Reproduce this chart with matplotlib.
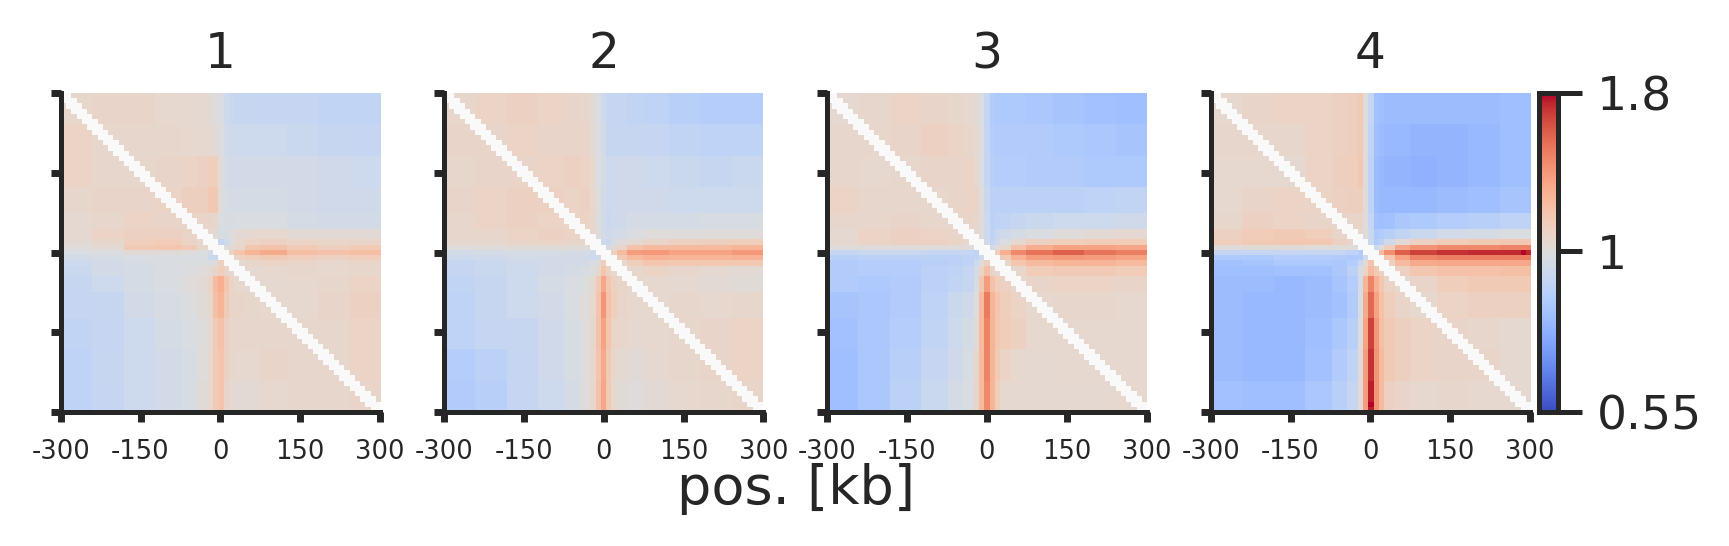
import matplotlib
matplotlib.use("Agg")
import matplotlib.pyplot as plt
from matplotlib.colors import LogNorm
import numpy as np

W, H = 1729, 546
DARK = "#262626"

TITLES = ["1", "2", "3", "4"]
TICK_LABELS = ["-300", "-150", "0", "150", "300"]
CBAR_TICKS = [0.55, 1, 1.8]
CBAR_LABELS = ["0.55", "1", "1.8"]

# number of 10 kb bins covered by each row/column band of the pileups
BAND_SIZES = [6, 6, 6, 5, 3, 2, 1, 1, 1, 1, 1, 2, 3, 5, 6, 6, 6]

pileup1 = [
    [1.05, 1.06, 1.06, 1.04, 1.03, 1.03, 1.02, 1.00, 0.98, 0.93, 0.92, 0.91, 0.91, 0.90, 0.90, 0.89, 0.89],
    [1.07, 1.05, 1.05, 1.05, 1.04, 1.03, 1.03, 1.02, 0.99, 0.95, 0.94, 0.93, 0.93, 0.93, 0.92, 0.91, 0.90],
    [1.07, 1.05, 1.05, 1.06, 1.07, 1.08, 1.10, 1.10, 1.00, 0.96, 0.95, 0.95, 0.95, 0.95, 0.95, 0.94, 0.93],
    [1.05, 1.06, 1.06, 1.07, 1.09, 1.09, 1.13, 1.13, 1.00, 0.97, 0.96, 0.96, 0.96, 0.96, 0.95, 0.94, 0.94],
    [1.03, 1.05, 1.07, 1.06, 1.06, 1.06, 1.06, 1.05, 0.98, 0.97, 0.97, 0.98, 0.98, 0.98, 0.96, 0.95, 0.95],
    [1.03, 1.07, 1.08, 1.08, 1.06, 1.04, 1.03, 1.02, 0.97, 0.97, 1.00, 1.02, 1.04, 1.04, 1.02, 1.02, 1.02],
    [1.02, 1.05, 1.10, 1.11, 1.07, 1.03, 1.00, 1.00, 0.90, 0.93, 1.00, 1.04, 1.07, 1.08, 1.07, 1.06, 1.06],
    [1.00, 1.02, 1.12, 1.14, 1.12, 1.05, 1.00, 1.00, 0.93, 1.00, 1.02, 1.05, 1.14, 1.16, 1.12, 1.09, 1.12],
    [0.98, 0.99, 1.02, 1.01, 1.00, 0.99, 0.96, 0.93, 1.00, 1.03, 1.06, 1.15, 1.22, 1.27, 1.18, 1.16, 1.18],
    [0.95, 0.96, 0.98, 0.98, 0.98, 0.98, 0.92, 0.92, 1.03, 1.00, 1.04, 1.07, 1.10, 1.12, 1.10, 1.08, 1.10],
    [0.93, 0.95, 0.97, 0.98, 0.99, 0.99, 0.97, 1.00, 1.08, 1.03, 1.00, 1.03, 1.05, 1.07, 1.06, 1.05, 1.06],
    [0.92, 0.95, 0.96, 0.98, 0.99, 1.00, 1.02, 1.06, 1.10, 1.06, 1.03, 1.02, 1.03, 1.04, 1.05, 1.04, 1.05],
    [0.91, 0.93, 0.96, 0.98, 1.00, 1.02, 1.06, 1.20, 1.25, 1.14, 1.07, 1.04, 1.03, 1.03, 1.04, 1.05, 1.07],
    [0.90, 0.91, 0.95, 0.97, 0.99, 1.01, 1.05, 1.18, 1.22, 1.12, 1.06, 1.06, 1.05, 1.04, 1.04, 1.06, 1.08],
    [0.89, 0.90, 0.93, 0.96, 0.98, 1.00, 1.03, 1.12, 1.16, 1.08, 1.05, 1.05, 1.05, 1.05, 1.05, 1.05, 1.07],
    [0.88, 0.91, 0.93, 0.95, 0.97, 1.00, 1.04, 1.12, 1.15, 1.08, 1.05, 1.04, 1.04, 1.06, 1.05, 1.05, 1.07],
    [0.88, 0.90, 0.93, 0.95, 0.97, 1.01, 1.04, 1.12, 1.15, 1.06, 1.03, 1.02, 1.02, 1.04, 1.05, 1.05, 1.06],
]

pileup2 = [
    [1.05, 1.07, 1.08, 1.07, 1.06, 1.05, 1.01, 0.98, 0.94, 0.90, 0.90, 0.90, 0.89, 0.88, 0.86, 0.85, 0.85],
    [1.06, 1.06, 1.07, 1.06, 1.06, 1.06, 1.02, 0.98, 0.95, 0.91, 0.91, 0.91, 0.91, 0.90, 0.89, 0.88, 0.88],
    [1.05, 1.06, 1.06, 1.07, 1.08, 1.07, 1.03, 0.98, 0.96, 0.93, 0.93, 0.94, 0.94, 0.93, 0.92, 0.91, 0.92],
    [1.06, 1.07, 1.08, 1.08, 1.07, 1.08, 1.04, 0.99, 0.95, 0.93, 0.93, 0.94, 0.94, 0.94, 0.93, 0.93, 0.93],
    [1.05, 1.07, 1.08, 1.07, 1.07, 1.07, 1.05, 0.99, 0.95, 0.92, 0.93, 0.94, 0.96, 0.96, 0.96, 0.97, 0.97],
    [1.05, 1.05, 1.07, 1.08, 1.07, 1.06, 1.05, 1.00, 0.95, 0.94, 0.95, 0.96, 0.98, 1.00, 1.00, 1.00, 1.00],
    [1.03, 1.04, 1.06, 1.07, 1.06, 1.05, 1.03, 1.00, 0.93, 0.92, 0.96, 1.00, 1.03, 1.06, 1.08, 1.09, 1.10],
    [1.00, 1.00, 1.01, 1.01, 1.01, 1.01, 1.01, 1.00, 0.93, 0.96, 1.02, 1.06, 1.16, 1.20, 1.20, 1.20, 1.22],
    [0.95, 0.96, 0.97, 0.97, 0.96, 0.96, 0.94, 0.93, 1.00, 1.04, 1.08, 1.20, 1.32, 1.34, 1.30, 1.30, 1.34],
    [0.93, 0.94, 0.95, 0.95, 0.95, 0.95, 0.93, 0.95, 1.04, 1.00, 1.03, 1.12, 1.20, 1.24, 1.22, 1.22, 1.24],
    [0.91, 0.92, 0.94, 0.95, 0.95, 0.95, 0.98, 1.00, 1.10, 1.03, 1.00, 1.04, 1.10, 1.14, 1.13, 1.13, 1.13],
    [0.90, 0.92, 0.93, 0.95, 0.96, 0.97, 0.99, 1.05, 1.15, 1.07, 1.04, 1.03, 1.05, 1.07, 1.05, 1.03, 1.02],
    [0.89, 0.91, 0.93, 0.96, 0.98, 0.99, 1.03, 1.12, 1.28, 1.14, 1.08, 1.06, 1.05, 1.04, 1.03, 1.02, 1.01],
    [0.88, 0.91, 0.93, 0.95, 0.98, 1.00, 1.04, 1.15, 1.35, 1.16, 1.10, 1.06, 1.04, 1.04, 1.05, 1.04, 1.05],
    [0.88, 0.90, 0.91, 0.94, 0.97, 1.00, 1.05, 1.16, 1.30, 1.15, 1.07, 1.05, 1.03, 1.04, 1.05, 1.06, 1.07],
    [0.85, 0.87, 0.90, 0.94, 0.97, 1.00, 1.05, 1.15, 1.27, 1.12, 1.05, 1.03, 1.01, 1.03, 1.05, 1.06, 1.07],
    [0.84, 0.86, 0.90, 0.93, 0.96, 1.00, 1.05, 1.16, 1.28, 1.12, 1.04, 1.01, 1.00, 1.02, 1.04, 1.05, 1.06],
]

pileup3 = [
    [1.03, 1.05, 1.07, 1.06, 1.05, 1.03, 1.02, 0.98, 0.90, 0.84, 0.83, 0.83, 0.83, 0.82, 0.81, 0.80, 0.79],
    [1.05, 1.05, 1.06, 1.08, 1.07, 1.05, 1.03, 0.99, 0.90, 0.85, 0.84, 0.84, 0.84, 0.84, 0.83, 0.82, 0.81],
    [1.05, 1.04, 1.05, 1.06, 1.06, 1.07, 1.04, 0.98, 0.90, 0.86, 0.85, 0.85, 0.85, 0.84, 0.84, 0.83, 0.83],
    [1.07, 1.05, 1.05, 1.05, 1.06, 1.07, 1.06, 1.00, 0.92, 0.87, 0.87, 0.87, 0.87, 0.87, 0.87, 0.88, 0.89],
    [1.05, 1.05, 1.06, 1.05, 1.05, 1.06, 1.05, 1.00, 0.93, 0.87, 0.88, 0.89, 0.91, 0.92, 0.93, 0.93, 0.94],
    [1.03, 1.07, 1.08, 1.07, 1.06, 1.04, 1.03, 1.00, 0.93, 0.88, 0.92, 0.94, 0.96, 0.98, 1.00, 1.02, 1.03],
    [1.03, 1.07, 1.08, 1.08, 1.07, 1.04, 1.03, 1.00, 0.94, 0.89, 0.94, 0.98, 1.04, 1.08, 1.10, 1.11, 1.11],
    [1.00, 1.00, 1.00, 1.00, 1.00, 1.00, 1.00, 1.00, 0.97, 0.95, 1.00, 1.04, 1.16, 1.26, 1.30, 1.30, 1.28],
    [0.91, 0.92, 0.92, 0.91, 0.91, 0.90, 0.88, 0.87, 1.00, 1.02, 1.10, 1.25, 1.40, 1.48, 1.55, 1.48, 1.44],
    [0.86, 0.87, 0.87, 0.87, 0.87, 0.88, 0.89, 0.93, 1.02, 1.00, 1.03, 1.12, 1.24, 1.32, 1.34, 1.32, 1.30],
    [0.84, 0.85, 0.85, 0.86, 0.87, 0.88, 0.93, 1.00, 1.08, 1.03, 1.00, 1.05, 1.14, 1.20, 1.22, 1.22, 1.20],
    [0.84, 0.85, 0.85, 0.87, 0.88, 0.90, 0.96, 1.06, 1.18, 1.06, 1.04, 1.03, 1.05, 1.11, 1.12, 1.12, 1.11],
    [0.84, 0.83, 0.84, 0.87, 0.89, 0.91, 0.97, 1.13, 1.32, 1.16, 1.10, 1.08, 1.05, 1.06, 1.07, 1.07, 1.06],
    [0.81, 0.82, 0.84, 0.88, 0.92, 0.94, 1.00, 1.20, 1.45, 1.22, 1.15, 1.10, 1.07, 1.04, 1.05, 1.05, 1.04],
    [0.80, 0.82, 0.85, 0.89, 0.93, 0.96, 1.02, 1.20, 1.42, 1.22, 1.14, 1.11, 1.08, 1.04, 1.04, 1.04, 1.04],
    [0.79, 0.82, 0.86, 0.90, 0.94, 0.97, 1.05, 1.20, 1.42, 1.22, 1.12, 1.07, 1.04, 1.03, 1.04, 1.04, 1.04],
    [0.79, 0.82, 0.87, 0.92, 0.96, 0.98, 1.06, 1.20, 1.40, 1.22, 1.10, 1.04, 1.03, 1.03, 1.03, 1.03, 1.04],
]

pileup4 = [
    [1.04, 1.06, 1.07, 1.07, 1.08, 1.09, 1.12, 1.00, 0.90, 0.80, 0.79, 0.78, 0.78, 0.78, 0.78, 0.78, 0.79],
    [1.05, 1.05, 1.05, 1.07, 1.08, 1.09, 1.12, 1.00, 0.89, 0.79, 0.78, 0.77, 0.77, 0.76, 0.76, 0.77, 0.79],
    [1.04, 1.04, 1.03, 1.07, 1.09, 1.10, 1.13, 1.00, 0.88, 0.78, 0.77, 0.76, 0.76, 0.75, 0.76, 0.77, 0.79],
    [1.04, 1.06, 1.07, 1.07, 1.08, 1.09, 1.10, 1.00, 0.88, 0.78, 0.77, 0.77, 0.77, 0.77, 0.78, 0.79, 0.81],
    [1.05, 1.08, 1.07, 1.06, 1.06, 1.06, 1.06, 1.00, 0.90, 0.80, 0.79, 0.80, 0.82, 0.83, 0.85, 0.86, 0.88],
    [1.08, 1.11, 1.12, 1.10, 1.06, 1.05, 1.04, 1.00, 0.92, 0.83, 0.84, 0.86, 0.89, 0.92, 0.95, 0.96, 0.98],
    [1.10, 1.12, 1.13, 1.13, 1.08, 1.06, 1.04, 0.99, 0.92, 0.84, 0.87, 0.94, 1.02, 1.08, 1.11, 1.12, 1.13],
    [1.00, 1.01, 1.01, 1.00, 1.00, 1.00, 1.00, 1.00, 0.90, 0.93, 1.00, 1.10, 1.28, 1.36, 1.40, 1.40, 1.42],
    [0.90, 0.90, 0.91, 0.91, 0.90, 0.88, 0.85, 0.85, 1.00, 1.10, 1.20, 1.38, 1.55, 1.65, 1.70, 1.72, 1.72],
    [0.83, 0.83, 0.85, 0.85, 0.84, 0.83, 0.84, 0.93, 1.10, 1.00, 1.08, 1.15, 1.30, 1.42, 1.44, 1.44, 1.44],
    [0.80, 0.81, 0.83, 0.83, 0.82, 0.85, 0.92, 1.02, 1.15, 1.10, 1.00, 1.08, 1.20, 1.27, 1.28, 1.28, 1.28],
    [0.79, 0.79, 0.80, 0.80, 0.82, 0.87, 0.97, 1.07, 1.20, 1.12, 1.08, 1.05, 1.08, 1.14, 1.17, 1.17, 1.18],
    [0.78, 0.78, 0.77, 0.78, 0.81, 0.85, 0.96, 1.22, 1.42, 1.24, 1.14, 1.07, 1.04, 1.06, 1.10, 1.12, 1.12],
    [0.78, 0.77, 0.77, 0.78, 0.80, 0.84, 0.97, 1.27, 1.52, 1.30, 1.17, 1.10, 1.06, 1.04, 1.07, 1.08, 1.08],
    [0.78, 0.77, 0.77, 0.79, 0.82, 0.86, 1.00, 1.30, 1.65, 1.34, 1.18, 1.12, 1.09, 1.07, 1.06, 1.05, 1.03],
    [0.78, 0.77, 0.77, 0.80, 0.84, 0.88, 1.02, 1.32, 1.70, 1.35, 1.20, 1.12, 1.09, 1.07, 1.06, 1.06, 1.03],
    [0.80, 0.79, 0.79, 0.82, 0.86, 0.90, 1.02, 1.32, 1.75, 1.35, 1.20, 1.08, 1.06, 1.04, 1.05, 1.04, 1.03],
]

# strongest single bins of the last pileup: (row, column, value)
peaks4 = [(59, 30, 1.8), (30, 59, 1.8)]

PILEUPS = [pileup1, pileup2, pileup3, pileup4]
PEAKS = [[], [], [], peaks4]


def axes_px(left, right, top=93.3, bottom=412):
    # axes rectangle given in pixels from the top left corner
    return [left / W, 1 - bottom / H, (right - left) / W, (bottom - top) / H]


def expand(bands, peaks):
    # bands -> full bin matrix, the bins next to the main diagonal stay empty
    sizes = np.array(BAND_SIZES)
    mat = np.repeat(np.repeat(np.array(bands), sizes, axis=0), sizes, axis=1)
    for row, col, val in peaks:
        mat[row, col] = val
    rows, cols = np.indices(mat.shape)
    return np.ma.masked_where(np.abs(rows - cols) <= 1, mat)


plt.rcParams["font.family"] = "DejaVu Sans"
plt.rcParams["text.color"] = DARK
plt.rcParams["axes.edgecolor"] = DARK
plt.rcParams["xtick.color"] = DARK
plt.rcParams["ytick.color"] = DARK

fig = plt.figure(figsize=(W / 100, H / 100), dpi=100)
norm = LogNorm(vmin=CBAR_TICKS[0], vmax=CBAR_TICKS[-1])
spans = [(60.7, 380), (444.3, 763.3), (827.3, 1146.7), (1210.7, 1530)]

for title, bands, peaks, (x0, x1) in zip(TITLES, PILEUPS, PEAKS, spans):
    ax = fig.add_axes(axes_px(x0, x1))
    mat = expand(bands, peaks)
    n = mat.shape[0]
    im = ax.imshow(mat, cmap="coolwarm", norm=norm, aspect="auto",
                   interpolation="nearest", extent=[0, n, n, 0])
    ax.set_facecolor("#f9f9f9")
    ticks = np.linspace(0, n, len(TICK_LABELS))
    ax.set_xticks(ticks)
    ax.set_xticklabels(TICK_LABELS, fontsize=18.5)
    ax.set_yticks(ticks)
    ax.set_yticklabels([])
    ax.tick_params(length=7.5, width=5, pad=12)
    ax.spines["top"].set_visible(False)
    ax.spines["right"].set_visible(False)
    ax.spines["left"].set_linewidth(3.6)
    ax.spines["bottom"].set_linewidth(3.6)
    ax.set_title(title, fontsize=35, pad=18)

cax = fig.add_axes(axes_px(1539, 1558.5))
cbar = fig.colorbar(im, cax=cax)
cbar.set_ticks(CBAR_TICKS)
cbar.set_ticklabels(CBAR_LABELS)
cbar.ax.minorticks_off()
cbar.ax.tick_params(labelsize=34, length=17.6, width=3.6, pad=10)
cbar.outline.set_linewidth(3.6)
cbar.outline.set_edgecolor(DARK)

fig.text(795.6 / W, 1 - 489 / H, "pos. [kb]", fontsize=39, ha="center", va="center")

fig.savefig("out.png", dpi=100)
